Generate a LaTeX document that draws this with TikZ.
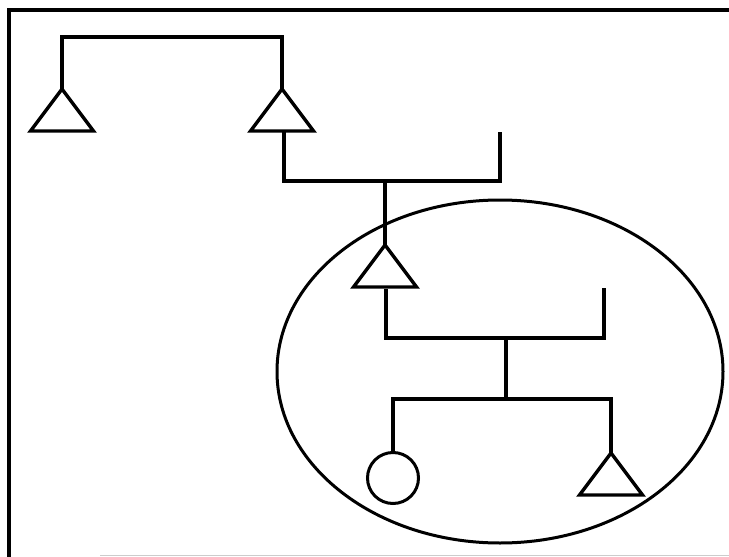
\documentclass[tikz,border=0pt]{standalone}
\usetikzlibrary{calc,shapes.geometric}
\begin{document}
\begin{tikzpicture}[x=1pt,y=-1pt,
  link/.style={line width=3.6pt},
  symb/.style={line width=3.4pt,line join=miter},
  ring/.style={line width=3pt},
  tri/.pic={\draw[symb] (0,0) -- (31.5,42) -- (-31.5,42) -- cycle;}]
\useasboundingbox (0,0) rectangle (729,557);
% frame
\draw[line width=3.4pt] (9,557) -- (9,10) -- (729,10);
\draw[gray!40,line width=1pt] (100,555) -- (729,555);
% top generation
\coordinate (a1) at (62,89);
\coordinate (a2) at (282,89);
\pic at (a1) {tri};
\pic at (a2) {tri};
\coordinate (a2b) at (284,132);
\draw[link] (a1) |- (62,37) -| (a2);
% second generation
\coordinate (m1) at (385,181);
\coordinate (p1) at (500,132);
\draw[link] (a2b) |- (m1) -| (p1);
\coordinate (b1) at (385,245);
\pic at (b1) {tri};
\draw[link] (m1) -- (b1);
% third generation
\coordinate (b1b) at (386,289);
\coordinate (m2) at (506,338);
\coordinate (p2) at (604,288);
\draw[link] (b1b) |- (m2) -| (p2);
\coordinate (s) at (506,399);
\draw[link] (m2) -- (s);
\node[circle,draw,ring,minimum size=51pt,inner sep=0] (c1) at (393,478) {};
\coordinate (c2) at (611,453);
\pic at (c2) {tri};
\draw[link] (c1.north) |- (s) -| (c2);
% ellipse
\node[ellipse,draw,ring,minimum width=446pt,minimum height=343pt,inner sep=0] (e) at (500,371.5) {};
\end{tikzpicture}
\end{document}
